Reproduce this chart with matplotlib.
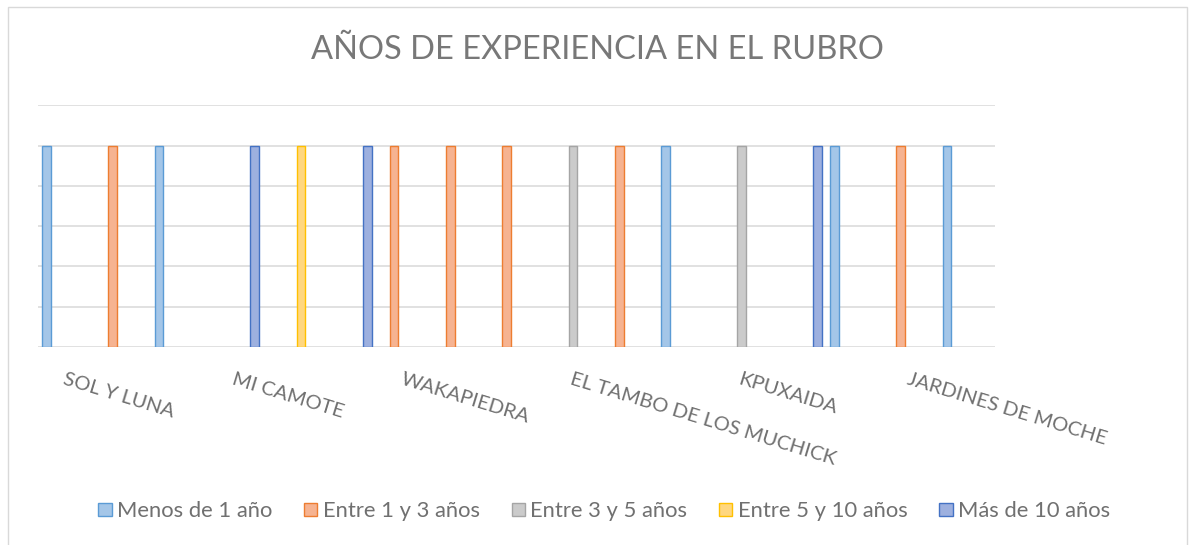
import numpy as np
import matplotlib
matplotlib.use("Agg")
import matplotlib.pyplot as plt
from matplotlib.patches import Rectangle

# ---- data ----
categories = ['SOL Y LUNA', '', '', 'MI CAMOTE', '', '', 'WAKAPIEDRA', '', '',
              'EL TAMBO DE LOS MUCHICK', '', '', 'KPUXAIDA', '', '',
              'JARDINES DE MOCHE', '']
series_names = ['Menos de 1 año', 'Entre 1 y 3 años', 'Entre 3 y 5 años',
                'Entre 5 y 10 años', 'Más de 10 años']
menos_1 = [1, None, 1, None, None, None, None, None, None, None, None, 1, None, None, 1, None, 1]
entre_1_3 = [None, 1, None, None, None, None, 1, 1, 1, None, 1, None, None, None, None, 1, None]
entre_3_5 = [None, None, None, None, None, None, None, None, None, 1, None, None, 1, None, None, None, None]
entre_5_10 = [None, None, None, None, 1, None, None, None, None, None, None, None, None, None, None, None, None]
mas_10 = [None, None, None, 1, None, 1, None, None, None, None, None, None, None, 1, None, None, None]
series_values = [menos_1, entre_1_3, entre_3_5, entre_5_10, mas_10]

title = 'AÑOS DE EXPERIENCIA EN EL RUBRO'

fills = ['#A4C6E8', '#F6B391', '#CBCBCB', '#FFD77F', '#9DB0DF']
edges = ['#5B9BD5', '#ED7D31', '#A5A5A5', '#FFC000', '#4472C4']

plt.rcParams['font.family'] = ['Lato', 'DejaVu Sans']

fig = plt.figure(figsize=(11.92, 5.45), dpi=100)
ax = fig.add_axes([38/1192, 1-346.7/545, (995-38)/1192, (346.7-105.5)/545])

n = len(categories)
x = np.arange(n)
slot = 0.175
for s, (vals, name) in enumerate(zip(series_values, series_names)):
    v = np.array([np.nan if q is None else q for q in vals], dtype=float)
    ax.bar(x + (s - 2) * slot, v, width=0.152, color=fills[s], edgecolor=edges[s],
           linewidth=1.0, label=name, zorder=3)

ax.set_xlim(-0.5, n - 0.5)
ax.set_ylim(0, 1.2)
ax.set_yticks(np.arange(0, 1.21, 0.2))
ax.set_yticklabels([])
ax.tick_params(axis='y', length=0)
ax.grid(axis='y', color='#D9D9D9', linewidth=1.1, zorder=0)
for sp in ax.spines.values():
    sp.set_visible(False)

ax.set_xticks(x)
ax.set_xticklabels([])
ax.tick_params(axis='x', length=0)
for k, lab in enumerate(categories):
    if lab:
        ax.text(k, -0.12, lab, rotation=-17, rotation_mode='anchor', ha='left', va='top',
                fontsize=14.6, color='#707070', transform=ax.transData, clip_on=False)

fig.text(0.501, 0.908, title, ha='center', va='center', fontsize=23.5,
         color='#787878', fontweight='normal')

leg = fig.legend(loc='center', bbox_to_anchor=(0.507, 0.062), ncol=5, frameon=False,
                 fontsize=15.8, handlelength=0.6, handleheight=0.6, handletextpad=0.25,
                 columnspacing=1.45, labelcolor='#707070')

fig.patches.append(Rectangle((8/1192, -0.05), (1187-8)/1192, 1 - 7/545 + 0.05,
                             transform=fig.transFigure, fill=False,
                             edgecolor='#D9D9D9', linewidth=1.0))

fig.savefig('out.png', dpi=100, facecolor='white')
